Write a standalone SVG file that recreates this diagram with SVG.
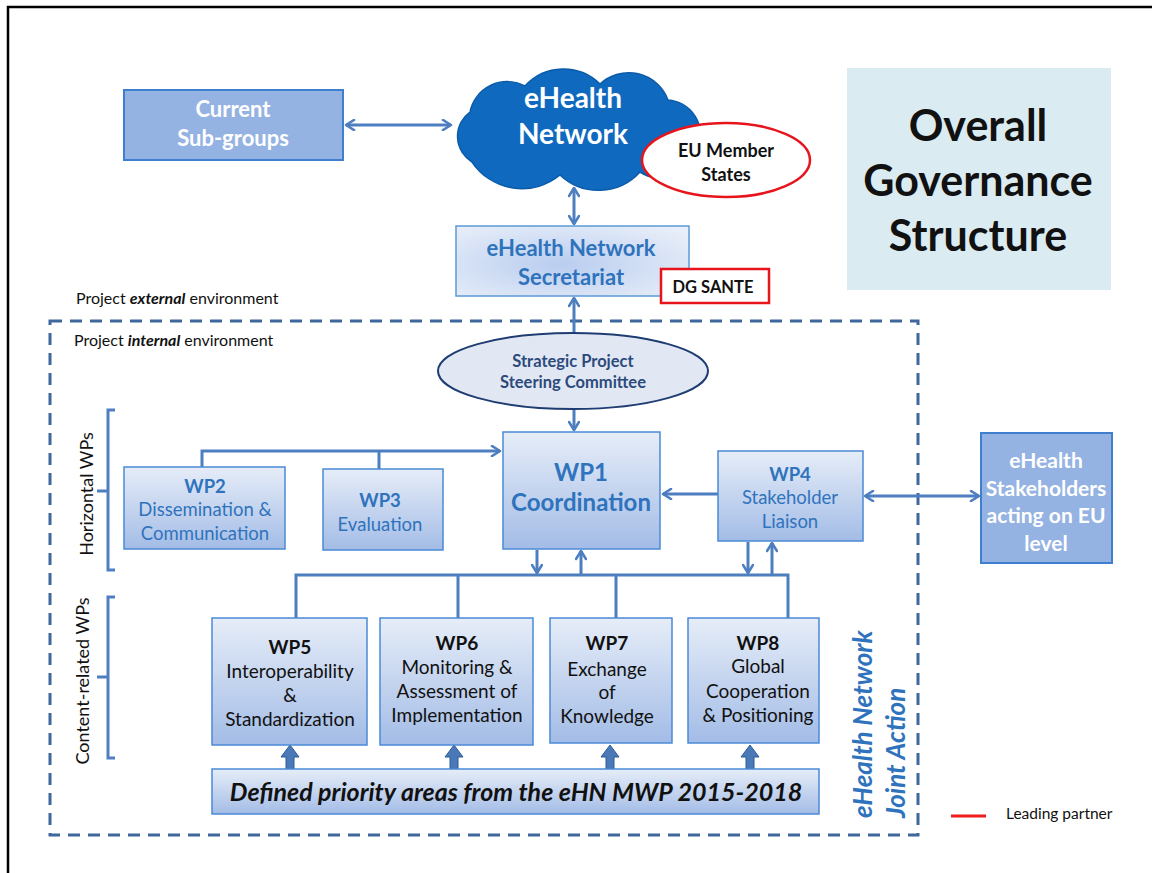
<svg xmlns="http://www.w3.org/2000/svg" width="1152" height="873" viewBox="0 0 1152 873">
  <defs>
    <style>
      text { font-family: Lato, "Liberation Sans", sans-serif; }
      .c { text-anchor: middle; }
      .b { font-weight: bold; }
      .solid { fill: #95b3e2; stroke: #3f7fcf; stroke-width: 2; }
      .wp { fill: url(#wpGrad); stroke: #4a8ad6; stroke-width: 1.5; }
      .white { fill: #ffffff; }
      .blue { fill: #2f73bd; }
      .dark { fill: #111111; }
      .conn { fill: none; stroke: #4d7ebf; stroke-width: 3; }
      .both { marker-start: url(#head); marker-end: url(#head); }
      .end { marker-end: url(#head); }
      .block { fill: #4a79b8; stroke: #2f5a95; stroke-width: 1; }
      .brace { fill: none; stroke: #4f7fc0; stroke-width: 3; }
    </style>
    <linearGradient id="wpGrad" x1="0" y1="0" x2="0" y2="1">
      <stop offset="0" stop-color="#e6edf8"/>
      <stop offset="1" stop-color="#a3bce6"/>
    </linearGradient>
    <radialGradient id="secGrad" cx="0.45" cy="0.55" r="0.7">
      <stop offset="0" stop-color="#b9cdef"/>
      <stop offset="1" stop-color="#e9eff9"/>
    </radialGradient>
    <marker id="head" viewBox="0 0 12 12" refX="10" refY="6" markerWidth="12" markerHeight="12" markerUnits="userSpaceOnUse" orient="auto-start-reverse">
      <path d="M2,1 L10,6 L2,11" fill="none" stroke="#4d7ebf" stroke-width="2.6" stroke-linecap="round" stroke-linejoin="round"/>
    </marker>
  </defs>

  <rect width="1152" height="873" fill="#ffffff"/>
  <!-- page frame -->
  <path d="M8,873 V7 H1152" fill="none" stroke="#000000" stroke-width="2.5"/>

  <!-- project internal environment boundary -->
  <rect x="50" y="321" width="868" height="514" fill="none" stroke="#40679c" stroke-width="3" stroke-dasharray="12,8"/>
  <text x="76" y="304" font-size="16" class="dark">Project <tspan font-weight="bold" font-style="italic">external</tspan> environment</text>
  <text x="74" y="346" font-size="16" class="dark">Project <tspan font-weight="bold" font-style="italic">internal</tspan> environment</text>

  <!-- braces for WP categories -->
  <path class="brace" d="M115,410 H108 V570 H115 M108,491 H97"/>
  <text class="c dark" font-size="18" transform="translate(93,494) rotate(-90)">Horizontal WPs</text>
  <path class="brace" d="M115,597 H108 V758 H115 M108,677 H97"/>
  <text class="c dark" font-size="18" transform="translate(89,681) rotate(-90)">Content-related WPs</text>

  <!-- connectors -->
  <g id="connectors">
    <path class="conn both" d="M346,125 H451"/>
    <path class="conn both" d="M574,188 V224"/>
    <path class="conn end" d="M574,333 V298"/>
    <path class="conn end" d="M574,409 V430"/>
    <path class="conn end" d="M202,467 V451 H500"/>
    <path class="conn" d="M379,469 V451"/>
    <path class="conn end" d="M718,494 H663"/>
    <path class="conn both" d="M865,496 H979"/>
    <path class="conn end" d="M537,550 V573"/>
    <path class="conn end" d="M581,575 V551"/>
    <path class="conn end" d="M748,542 V573"/>
    <path class="conn end" d="M772,575 V543"/>
    <path class="conn" d="M296,618 V575 H788 V618 M458,575 V618 M616,575 V618"/>
    <!-- block arrows from priority areas -->
    <path class="block" d="M286,769 V757 H281 L290,745 L299,757 H294 V769 Z"/>
    <path class="block" d="M450,769 V757 H445 L454,745 L463,757 H458 V769 Z"/>
    <path class="block" d="M606,769 V757 H601 L610,745 L619,757 H614 V769 Z"/>
    <path class="block" d="M746,769 V757 H741 L750,745 L759,757 H754 V769 Z"/>
  </g>

  <g id="subgroups">
    <rect class="solid" x="124" y="90" width="219" height="70"/>
    <text class="c b white" x="233" y="117" font-size="22">Current</text>
    <text class="c b white" x="233" y="146" font-size="22">Sub-groups</text>
  </g>

  <g id="ehealth-network">
    <path d="M472,162 A30,30 0 0 1 470,112 A38,38 0 0 1 525,86 A52,52 0 0 1 600,84 A42,42 0 0 1 668,100 A35,35 0 0 1 698,148 A38,38 0 0 1 640,172 A56,56 0 0 1 560,175 A60,60 0 0 1 472,162 Z" fill="#0f6abf" stroke="#0b5aa8" stroke-width="1.5"/>
    <text class="c b white" x="573" y="108" font-size="28">eHealth</text>
    <text class="c b white" x="573" y="144" font-size="28">Network</text>
  </g>

  <g id="member-states">
    <ellipse cx="726" cy="160" rx="84" ry="37" fill="#ffffff" stroke="#e8141b" stroke-width="2.5"/>
    <text class="c b dark" x="726" y="157" font-size="18">EU Member</text>
    <text class="c b dark" x="726" y="181" font-size="18">States</text>
  </g>

  <g id="secretariat">
    <rect x="456" y="226" width="233" height="70" fill="url(#secGrad)" stroke="#5b9bd5" stroke-width="1.5"/>
    <text class="c b blue" x="571" y="256" font-size="22">eHealth Network</text>
    <text class="c b blue" x="571" y="285" font-size="22">Secretariat</text>
  </g>

  <g id="dg-sante">
    <rect x="661" y="269" width="108" height="34" fill="#ffffff" stroke="#e8141b" stroke-width="2.5"/>
    <text class="c b dark" x="713" y="293" font-size="16.5">DG SANTE</text>
  </g>

  <g id="title">
    <rect x="847" y="68" width="264" height="222" fill="#daebf1"/>
    <text class="c b dark" x="978" y="141" font-size="43">Overall</text>
    <text class="c b dark" x="978" y="196" font-size="43">Governance</text>
    <text class="c b dark" x="978" y="251" font-size="43">Structure</text>
  </g>

  <g id="steering-committee">
    <ellipse cx="573" cy="371" rx="135" ry="38" fill="#e1e8f3" stroke="#1f3d73" stroke-width="2"/>
    <text class="c b" x="573" y="367" font-size="16.5" fill="#2c4a7c">Strategic Project</text>
    <text class="c b" x="573" y="388" font-size="16.5" fill="#2c4a7c">Steering Committee</text>
  </g>

  <g id="wp1">
    <rect class="wp" x="503" y="432" width="157" height="117" stroke-width="3" stroke="#2e75c4"/>
    <text class="c b blue" x="581" y="481" font-size="24">WP1</text>
    <text class="c b blue" x="581" y="511" font-size="24">Coordination</text>
  </g>

  <g id="wp2">
    <rect class="wp" x="124" y="467" width="161" height="82"/>
    <text class="c b blue" x="205" y="493" font-size="18.5">WP2</text>
    <text class="c blue" x="205" y="516" font-size="18.5">Dissemination &amp;</text>
    <text class="c blue" x="205" y="540" font-size="18.5">Communication</text>
  </g>

  <g id="wp3">
    <rect class="wp" x="323" y="469" width="120" height="81"/>
    <text class="c b blue" x="380" y="507" font-size="18.5">WP3</text>
    <text class="c blue" x="380" y="531" font-size="18.5">Evaluation</text>
  </g>

  <g id="wp4">
    <rect class="wp" x="718" y="451" width="145" height="90"/>
    <text class="c b blue" x="790" y="481" font-size="18.5">WP4</text>
    <text class="c blue" x="790" y="504" font-size="18.5">Stakeholder</text>
    <text class="c blue" x="790" y="528" font-size="18.5">Liaison</text>
  </g>

  <g id="stakeholders">
    <rect class="solid" x="981" y="433" width="131" height="130"/>
    <text class="c b white" x="1046" y="468" font-size="21">eHealth</text>
    <text class="c b white" x="1046" y="496" font-size="21">Stakeholders</text>
    <text class="c b white" x="1046" y="523" font-size="21">acting on EU</text>
    <text class="c b white" x="1046" y="551" font-size="21">level</text>
  </g>

  <g id="wp5">
    <rect class="wp" x="212" y="618" width="155" height="127"/>
    <text class="c b dark" x="290" y="654" font-size="19">WP5</text>
    <text class="c dark" x="290" y="678" font-size="19">Interoperability</text>
    <text class="c dark" x="290" y="702" font-size="19">&amp;</text>
    <text class="c dark" x="290" y="726" font-size="19">Standardization</text>
  </g>

  <g id="wp6">
    <rect class="wp" x="380" y="618" width="153" height="127"/>
    <text class="c b dark" x="457" y="650" font-size="19">WP6</text>
    <text class="c dark" x="457" y="674" font-size="19">Monitoring &amp;</text>
    <text class="c dark" x="457" y="698" font-size="19">Assessment of</text>
    <text class="c dark" x="457" y="722" font-size="19">Implementation</text>
  </g>

  <g id="wp7">
    <rect class="wp" x="550" y="618" width="122" height="125"/>
    <text class="c b dark" x="607" y="650" font-size="19">WP7</text>
    <text class="c dark" x="607" y="676" font-size="19">Exchange</text>
    <text class="c dark" x="607" y="699" font-size="19">of</text>
    <text class="c dark" x="607" y="723" font-size="19">Knowledge</text>
  </g>

  <g id="wp8">
    <rect class="wp" x="688" y="618" width="131" height="125"/>
    <text class="c b dark" x="758" y="650" font-size="19">WP8</text>
    <text class="c dark" x="758" y="673" font-size="19">Global</text>
    <text class="c dark" x="758" y="698" font-size="19">Cooperation</text>
    <text class="c dark" x="758" y="722" font-size="19">&amp; Positioning</text>
  </g>

  <g id="priority-areas">
    <rect class="wp" x="212" y="769" width="607" height="45"/>
    <text class="c b dark" x="516" y="801" font-size="25" font-style="italic">Defined priority areas from the eHN MWP 2015-2018</text>
  </g>

  <g id="joint-action">
    <text class="b blue" font-size="26" font-style="italic" transform="translate(872,818) rotate(-90)">eHealth Network</text>
    <text class="b blue" font-size="26" font-style="italic" transform="translate(905,818) rotate(-90)">Joint Action</text>
  </g>

  <g id="legend">
    <line x1="951" y1="816" x2="986" y2="816" stroke="#ee1c1c" stroke-width="3"/>
    <text class="dark" x="1006" y="819" font-size="15.5">Leading partner</text>
  </g>
</svg>
